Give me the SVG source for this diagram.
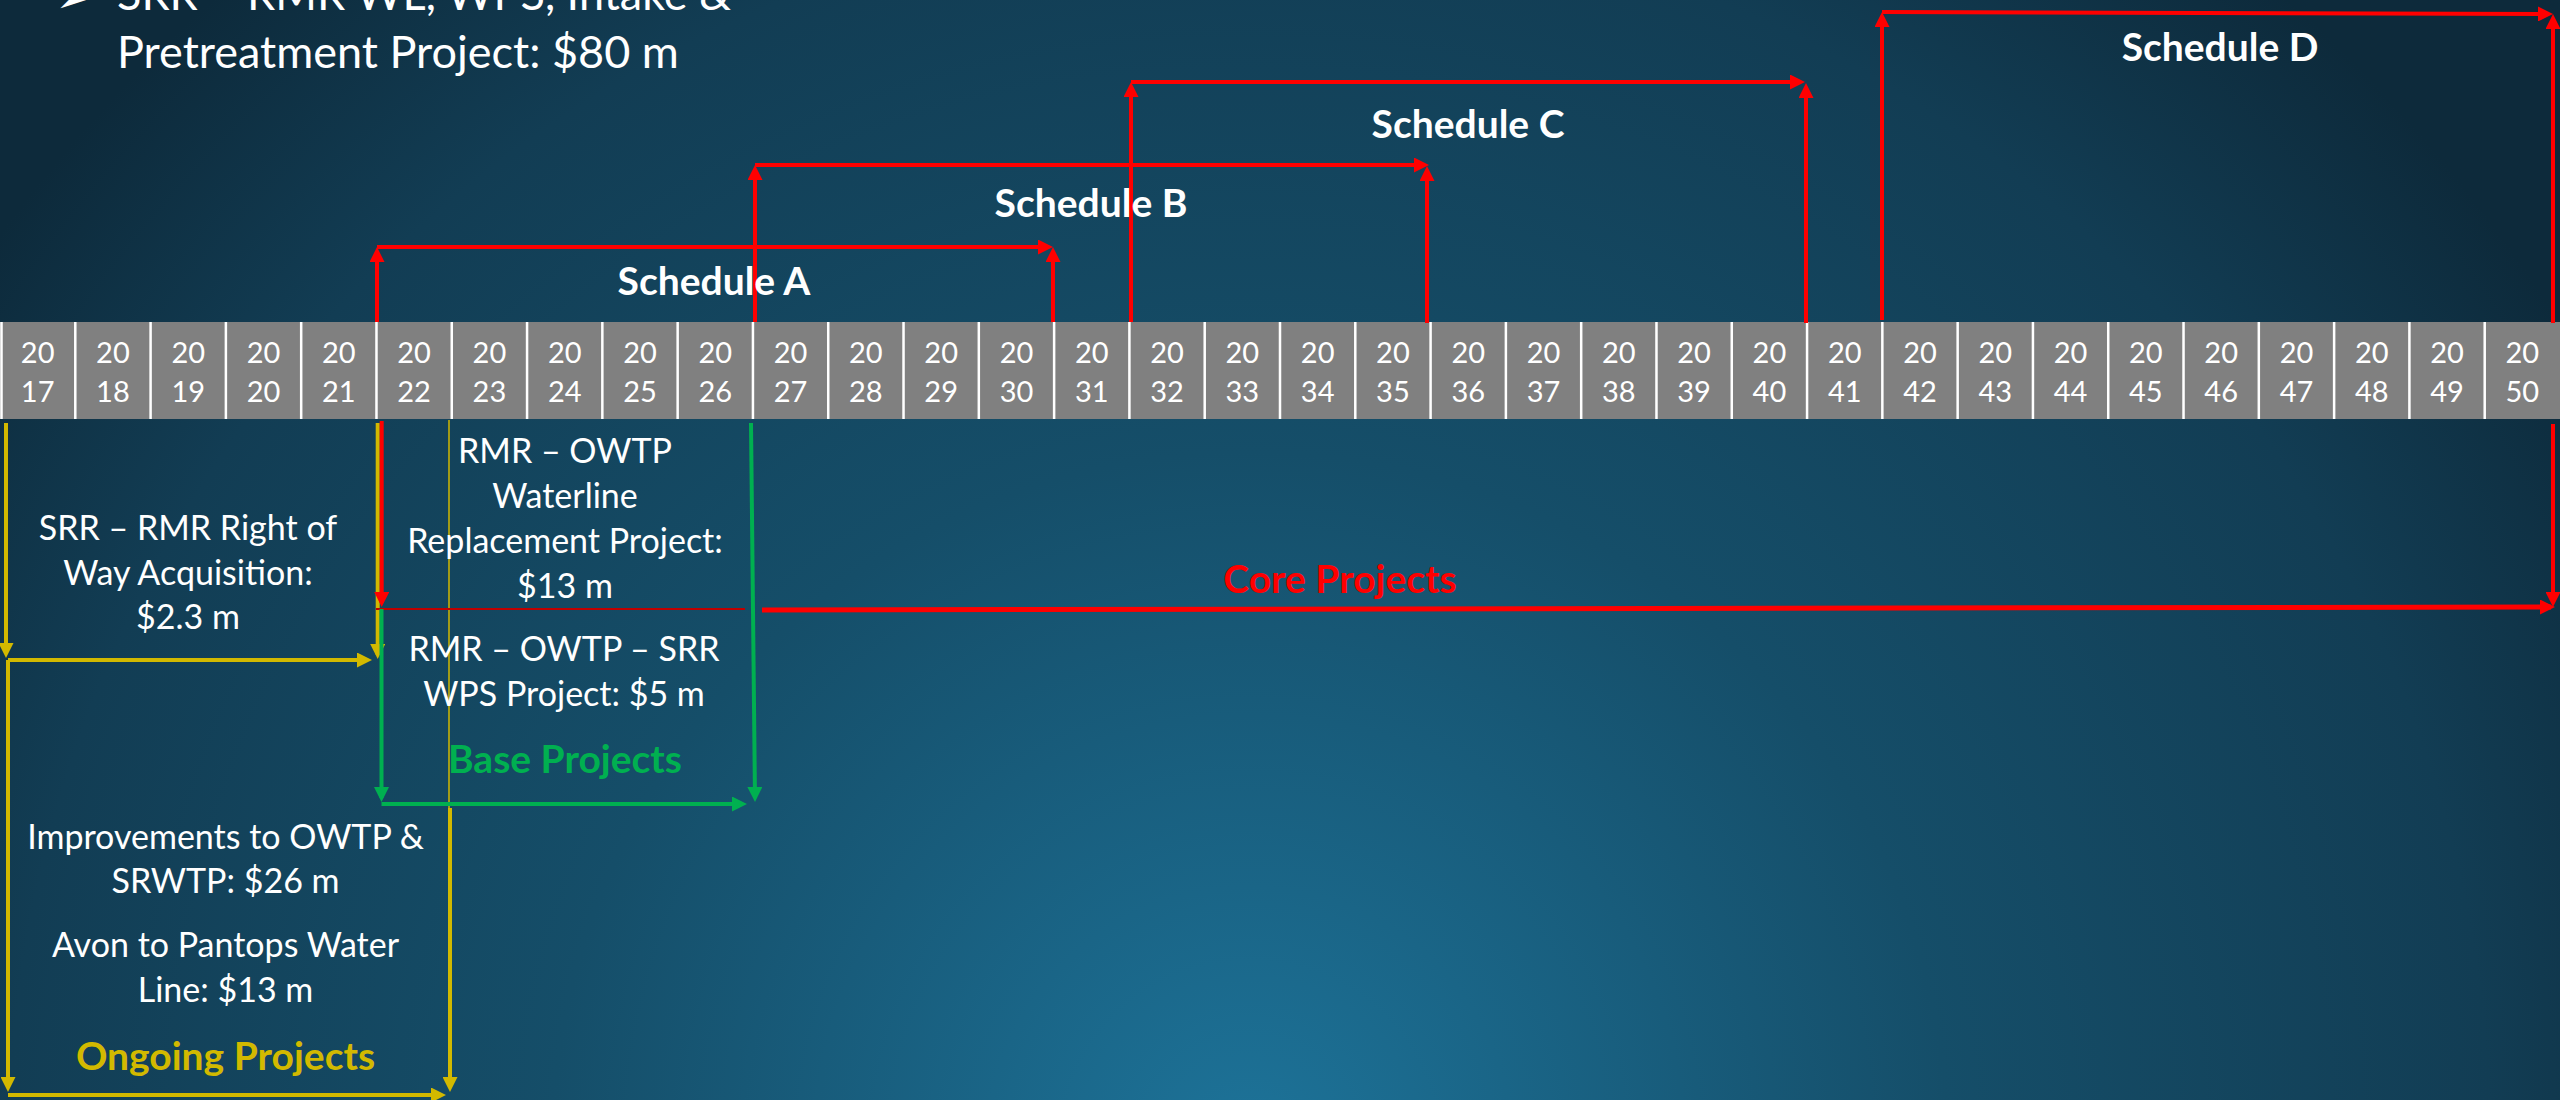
<svg xmlns="http://www.w3.org/2000/svg" width="2560" height="1100" viewBox="0 0 2560 1100">
<style>
.bg{fill:url(#bgGrad)}
.cell{fill:#808080}
.div{stroke:#ffffff;stroke-width:2.5}
.yr{font-family:Lato,"Open Sans","DejaVu Sans",sans-serif;font-size:29px;fill:#ffffff;text-anchor:middle}
.txt{font-family:Lato,"Open Sans","DejaVu Sans",sans-serif;font-size:34px;fill:#ffffff;text-anchor:middle}
.top{font-family:Lato,"Open Sans","DejaVu Sans",sans-serif;font-size:45px;fill:#ffffff}
.lbl{font-family:Lato,"Open Sans","DejaVu Sans",sans-serif;font-size:39px;font-weight:bold;text-anchor:middle}
.w{fill:#ffffff}
.r{stroke:#ff0000;stroke-width:4;fill:none;marker-end:url(#ar)}
.y{stroke:#d2b900;stroke-width:4;fill:none;marker-end:url(#ay)}
.g{stroke:#00b050;stroke-width:4;fill:none;marker-end:url(#ag)}
</style>
<defs>
<radialGradient id="bgGrad" gradientUnits="userSpaceOnUse" cx="1250" cy="1150" r="1550">
<stop offset="0" stop-color="#1d7399"/>
<stop offset="0.45" stop-color="#154e69"/>
<stop offset="0.8" stop-color="#123d54"/>
<stop offset="1" stop-color="#0d2a3b"/>
</radialGradient>
<marker id="ar" viewBox="0 0 15 15" refX="11" refY="7.5" markerWidth="15" markerHeight="15" markerUnits="userSpaceOnUse" orient="auto"><path d="M0,0 L15,7.5 L0,15 z" fill="#ff0000"/></marker>
<marker id="ay" viewBox="0 0 15 15" refX="11" refY="7.5" markerWidth="15" markerHeight="15" markerUnits="userSpaceOnUse" orient="auto"><path d="M0,0 L15,7.5 L0,15 z" fill="#d2b900"/></marker>
<marker id="ag" viewBox="0 0 15 15" refX="11" refY="7.5" markerWidth="15" markerHeight="15" markerUnits="userSpaceOnUse" orient="auto"><path d="M0,0 L15,7.5 L0,15 z" fill="#00b050"/></marker>
</defs>
<rect class="bg" x="0" y="0" width="2560" height="1100"/>

<g id="title">
<text x="56" y="12" font-family="'DejaVu Sans',sans-serif" font-size="40" class="w">➢</text>
<text class="top" x="117" y="10">SRR – RMR WL, WPS, Intake &amp;</text>
<text class="top" x="117" y="68">Pretreatment Project: $80 m</text>
</g>

<g id="timeline">
<rect class="cell" x="0" y="322" width="2560" height="97"/>
<g id="y2017"><text class="yr" x="37.65" y="363">20<tspan x="37.65" y="402">17</tspan></text></g>
<g id="y2018"><text class="yr" x="112.94" y="363">20<tspan x="112.94" y="402">18</tspan></text></g>
<g id="y2019"><text class="yr" x="188.24" y="363">20<tspan x="188.24" y="402">19</tspan></text></g>
<g id="y2020"><text class="yr" x="263.53" y="363">20<tspan x="263.53" y="402">20</tspan></text></g>
<g id="y2021"><text class="yr" x="338.82" y="363">20<tspan x="338.82" y="402">21</tspan></text></g>
<g id="y2022"><text class="yr" x="414.12" y="363">20<tspan x="414.12" y="402">22</tspan></text></g>
<g id="y2023"><text class="yr" x="489.41" y="363">20<tspan x="489.41" y="402">23</tspan></text></g>
<g id="y2024"><text class="yr" x="564.71" y="363">20<tspan x="564.71" y="402">24</tspan></text></g>
<g id="y2025"><text class="yr" x="640" y="363">20<tspan x="640" y="402">25</tspan></text></g>
<g id="y2026"><text class="yr" x="715.29" y="363">20<tspan x="715.29" y="402">26</tspan></text></g>
<g id="y2027"><text class="yr" x="790.59" y="363">20<tspan x="790.59" y="402">27</tspan></text></g>
<g id="y2028"><text class="yr" x="865.88" y="363">20<tspan x="865.88" y="402">28</tspan></text></g>
<g id="y2029"><text class="yr" x="941.18" y="363">20<tspan x="941.18" y="402">29</tspan></text></g>
<g id="y2030"><text class="yr" x="1016.47" y="363">20<tspan x="1016.47" y="402">30</tspan></text></g>
<g id="y2031"><text class="yr" x="1091.76" y="363">20<tspan x="1091.76" y="402">31</tspan></text></g>
<g id="y2032"><text class="yr" x="1167.06" y="363">20<tspan x="1167.06" y="402">32</tspan></text></g>
<g id="y2033"><text class="yr" x="1242.35" y="363">20<tspan x="1242.35" y="402">33</tspan></text></g>
<g id="y2034"><text class="yr" x="1317.65" y="363">20<tspan x="1317.65" y="402">34</tspan></text></g>
<g id="y2035"><text class="yr" x="1392.94" y="363">20<tspan x="1392.94" y="402">35</tspan></text></g>
<g id="y2036"><text class="yr" x="1468.24" y="363">20<tspan x="1468.24" y="402">36</tspan></text></g>
<g id="y2037"><text class="yr" x="1543.53" y="363">20<tspan x="1543.53" y="402">37</tspan></text></g>
<g id="y2038"><text class="yr" x="1618.82" y="363">20<tspan x="1618.82" y="402">38</tspan></text></g>
<g id="y2039"><text class="yr" x="1694.12" y="363">20<tspan x="1694.12" y="402">39</tspan></text></g>
<g id="y2040"><text class="yr" x="1769.41" y="363">20<tspan x="1769.41" y="402">40</tspan></text></g>
<g id="y2041"><text class="yr" x="1844.71" y="363">20<tspan x="1844.71" y="402">41</tspan></text></g>
<g id="y2042"><text class="yr" x="1920" y="363">20<tspan x="1920" y="402">42</tspan></text></g>
<g id="y2043"><text class="yr" x="1995.29" y="363">20<tspan x="1995.29" y="402">43</tspan></text></g>
<g id="y2044"><text class="yr" x="2070.59" y="363">20<tspan x="2070.59" y="402">44</tspan></text></g>
<g id="y2045"><text class="yr" x="2145.88" y="363">20<tspan x="2145.88" y="402">45</tspan></text></g>
<g id="y2046"><text class="yr" x="2221.18" y="363">20<tspan x="2221.18" y="402">46</tspan></text></g>
<g id="y2047"><text class="yr" x="2296.47" y="363">20<tspan x="2296.47" y="402">47</tspan></text></g>
<g id="y2048"><text class="yr" x="2371.76" y="363">20<tspan x="2371.76" y="402">48</tspan></text></g>
<g id="y2049"><text class="yr" x="2447.06" y="363">20<tspan x="2447.06" y="402">49</tspan></text></g>
<g id="y2050"><text class="yr" x="2522.35" y="363">20<tspan x="2522.35" y="402">50</tspan></text></g>
<path class="div" d="M1.5,322V419M75.29,322V419M150.59,322V419M225.88,322V419M301.18,322V419M376.47,322V419M451.76,322V419M527.06,322V419M602.35,322V419M677.65,322V419M752.94,322V419M828.24,322V419M903.53,322V419M978.82,322V419M1054.12,322V419M1129.41,322V419M1204.71,322V419M1280,322V419M1355.29,322V419M1430.59,322V419M1505.88,322V419M1581.18,322V419M1656.47,322V419M1731.76,322V419M1807.06,322V419M1882.35,322V419M1957.65,322V419M2032.94,322V419M2108.24,322V419M2183.53,322V419M2258.82,322V419M2334.12,322V419M2409.41,322V419M2484.71,322V419"/>
</g>

<g id="connectors">
<path class="r" d="M377,322V251"/>
<path class="r" d="M377,247H1049"/>
<path class="r" d="M1053,322V251"/>
<path class="r" d="M755,322V169"/>
<path class="r" d="M755,165H1425"/>
<path class="r" d="M1427,323V170"/>
<path class="r" d="M1131,322V86"/>
<path class="r" d="M1131,82H1801"/>
<path class="r" d="M1806,323V87"/>
<path class="r" d="M1882,320V16"/>
<path class="r" d="M1882,12L2549,14"/>
<path class="r" d="M2553,323V18"/>
<path class="r" d="M2553,424V603"/>
<path class="r" d="M762,610L2551,607" style="stroke-width:5"/>
<path d="M449,420V808" stroke="#d2b900" stroke-width="1.5" fill="none"/>
<path class="y" d="M6,423V654"/>
<path class="y" d="M8,660H368"/>
<path class="y" d="M377.7,423V655"/>
<path class="y" d="M8,660V1088"/>
<path class="y" d="M8,1095H442"/>
<path class="y" d="M450,808V1088"/>
<path class="r" d="M381.7,421V603"/>
<path d="M376,609H745" stroke="#c00000" stroke-width="2" fill="none"/>
<path class="g" d="M381.5,609V798"/>
<path class="g" d="M381.5,804H743"/>
<path class="g" d="M751,423L755,798"/>
</g>

<g id="scheduleA"><text class="lbl w" x="714" y="295">Schedule A</text></g>
<g id="scheduleB"><text class="lbl w" x="1091" y="217">Schedule B</text></g>
<g id="scheduleC"><text class="lbl w" x="1468" y="138">Schedule C</text></g>
<g id="scheduleD"><text class="lbl w" x="2220" y="61">Schedule D</text></g>
<g id="coreProjects"><text class="lbl" x="1340" y="593" fill="#ff0000">Core Projects</text></g>

<g id="rowAcquisition"><text class="txt" x="188" y="540">SRR – RMR Right of<tspan x="188" y="585">Way Acquisition:</tspan><tspan x="188" y="629">$2.3 m</tspan></text></g>
<g id="waterlineReplacement"><text class="txt" x="565" y="463">RMR – OWTP<tspan x="565" y="508">Waterline</tspan><tspan x="565" y="553">Replacement Project:</tspan><tspan x="565" y="598">$13 m</tspan></text></g>
<g id="wpsProject"><text class="txt" x="564" y="661">RMR – OWTP – SRR<tspan x="564" y="706">WPS Project: $5 m</tspan></text></g>
<g id="baseProjects"><text class="lbl" x="565" y="773" fill="#00b050">Base Projects</text></g>
<g id="improvements"><text class="txt" x="225.5" y="849">Improvements to OWTP &amp;<tspan x="225.5" y="893">SRWTP: $26 m</tspan></text></g>
<g id="avonPantops"><text class="txt" x="225.5" y="957">Avon to Pantops Water<tspan x="225.5" y="1002">Line: $13 m</tspan></text></g>
<g id="ongoingProjects"><text class="lbl" x="225.5" y="1070" fill="#d2b900">Ongoing Projects</text></g>
</svg>
